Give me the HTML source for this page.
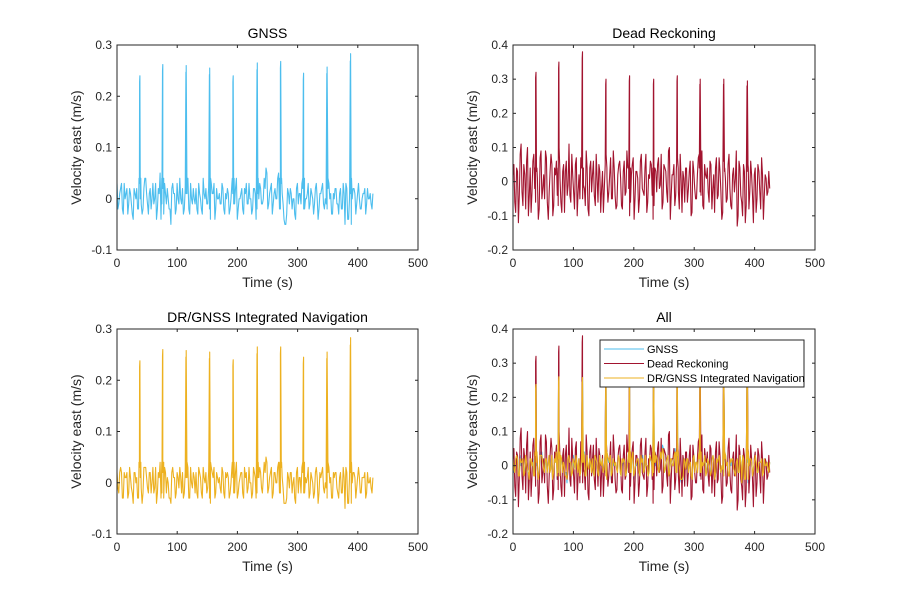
<!DOCTYPE html>
<html><head><meta charset="utf-8"><style>
body{margin:0;background:#fff}
svg{display:block;font-family:"Liberation Sans",Arial,sans-serif}
</style></head><body>
<svg id="fig" width="900" height="600" viewBox="0 0 900 600"></svg>
<script>
// Shared data
const peakTimes = [38,76,115,154,193,233,272,310,349,388];
const gnssPeaks = [0.24,0.262,0.26,0.255,0.24,0.265,0.268,0.245,0.257,0.283];
const drPeaks = [0.32,0.35,0.38,0.30,0.31,0.30,0.31,0.30,0.30,0.295];
const intPeaks = [0.238,0.26,0.258,0.255,0.24,0.265,0.265,0.245,0.255,0.283];
const gnssNoise = [3,-1,2,-2,3,1,-3,2,-1,-4,1,2,-2,0,-3,2,4,-1,1,-2,3,0,-4,2,5,-1,-3,1,2,-2,-5,3,1,-2,0,4,-1,-3,2,1,-2,3,-1,0,2,-3,1,-2,4,0,-1,2,-4,1,3,-2,0,1,-1,2,-3,0,1,-2,3,-1,2,-4,0,1,-2,2,3,-1,0,-3,2,1,-2,0,2,-1,4,6,-2,1,3,-1,2,0,5,-2,1,-4,-5,2,-1,1,0,-3,2,-1,1,3,-2,0,1,-2,2,0,-1,3,-4,1,2,-1,0,-2,3,1,-3,0,2,-1,1,-2,3,-5,2,-4,1,0,2,-3,1,0,-2,1,2,-1,0,1,-2,1];
const gnssNoise2 = [-2,1,3,-3,0,2,-1,1,-3,2,0,-2,3,-1,-2,4,1,-3,2,0,-1,3,-2,1,-4,2,3,-1,0,-2,2,1,-3,3,-1,0,2,-2,1,4,-3,0,2,-1,-2,3,0,-3,1,2,-1,-2,3,1,-4,2,0,-1,3,-2,1,2,-3,0,1,-1,4,-2,0,2,-3,1,-1,3,0,-2,2,-4,1,3,-1,0,2,5,-1,2,-3,1,0,4,-2,3,-1,-5,-3,1,2,-2,0,-4,3,1,-1,2,-2,0,3,-1,1,-3,2,0,-2,1,3,-2,-1,2,0,-3,1,2,-1,-3,2,-2,1,3,-4,0,-5,2,1,-1,3,-2,0,1,-3,2,0,-1];
const drNoise = [2,-6,4,-12,8,-3,5,-8,10,-4,-9,6,-2,3,-11,7,-5,2,9,-6,-3,8,-10,4,6,-7,1,-9,5,3,-4,11,-6,2,-8,7,-3,-5,9,-1,-7,4,-10,6,2,-4,8,-6,3,-2,-9,5,1,-3,7,-5,4,-8,2,6,-7,3,-4,9,-2,-6,5,-11,3,1,-5,8,-3,4,-9,2,6,-4,-7,3,5,-2,8,-6,4,-3,9,-11,2,5,-4,7,-8,1,3,-6,4,-2,6,-9,3,-5,2,8,-4,-7,5,1,-3,6,-8,2,4,-5,7,-3,-9,3,-6,5,-2,-8,4,1,-13,6,-4,-10,3,-7,5,-3,2,-12,4,-5,3,-8,2,-4,1,-3];
const drNoise2 = [5,-9,3,-4,11,-7,2,6,-10,4,-3,8,-6,1,-8,9,-2,-5,7,-11,3,5,-7,2,-4,10,-6,3,-9,6,-1,-4,8,-3,5,-10,2,7,-5,-2,9,-8,4,-3,6,-7,1,5,-9,3,-2,8,-6,2,-5,9,-4,-7,5,1,-8,6,-3,4,-10,2,7,-5,3,-9,6,-2,-4,8,-6,1,5,-11,4,-3,7,-1,-8,5,3,-6,10,-4,2,-7,5,-3,8,-9,1,4,-6,3,-10,6,-2,-5,7,-3,9,-8,2,4,-6,5,-2,-9,7,-4,3,-11,6,1,-5,8,-7,2,-3,9,-10,4,-6,5,-12,3,-8,6,-4,2,-9,5,-3,7,-11,2,-4,3,-2];
const intNoise = [2,-2,3,-3,2,1,-3,3,-1,-4,2,1,-3,1,-4,3,3,-1,2,-2,3,-1,-4,2,4,-2,-3,2,1,-3,-4,3,1,-2,1,3,-2,-3,2,1,-3,3,-1,1,2,-3,2,-2,3,0,-2,2,-4,2,3,-2,1,1,-2,2,-3,1,1,-2,3,-2,2,-3,0,2,-2,3,2,-1,0,-3,3,1,-2,1,2,-2,4,5,-2,1,3,-2,2,0,4,-2,1,-4,-4,2,-1,2,0,-3,2,-2,1,3,-2,1,1,-3,2,0,-2,3,-4,2,2,-1,0,-3,3,1,-3,1,2,-2,1,-2,3,-5,2,-4,2,0,2,-3,1,1,-2,1,2,-2,0,1,-2,1];
const intNoise2 = [-1,2,2,-3,1,2,-2,1,-2,2,0,-3,3,-1,-2,3,1,-2,2,0,-2,3,-2,1,-3,2,3,-2,0,-3,2,1,-3,2,-1,1,2,-2,1,3,-3,0,2,-2,-2,3,1,-3,1,2,-1,-3,3,1,-3,2,0,-1,3,-2,2,2,-3,0,1,-2,4,-2,1,2,-3,1,-2,3,0,-2,2,-3,1,3,-1,1,2,4,-1,2,-3,2,0,3,-2,3,-1,-4,-3,1,2,-2,1,-4,3,1,-2,2,-2,0,3,-2,1,-3,2,1,-2,1,3,-2,-1,2,0,-3,2,2,-1,-3,2,-2,1,3,-4,1,-4,2,1,-1,3,-2,1,1,-3,2,0,-1];
const xTicks = [0,100,200,300,400,500];
const yTicksA = [-0.1,0,0.1,0.2,0.3];
const yTicksB = [-0.2,-0.1,0,0.1,0.2,0.3,0.4];
const C = {g:'#4DBEEE', d:'#A2142F', i:'#EDB120'};
const tEnd = 425;

const svg = document.getElementById('fig');
const NS = 'http://www.w3.org/2000/svg';
function el(tag, attrs, parent){const e=document.createElementNS(NS,tag);for(const k in attrs)e.setAttribute(k,attrs[k]);(parent||svg).appendChild(e);return e;}

function series(a, b, peaks){
  const noise=[];
  const n=Math.max(a.length,b.length);
  for(let i=0;i<n;i++){if(i<a.length)noise.push(a[i]);if(i<b.length)noise.push(b[i]);}
  const step = tEnd/(noise.length-1);
  const pts = noise.map((v,i)=>[i*step, v/100]);
  peakTimes.forEach((t,k)=>{pts.push([t-1.5, 0.04]);pts.push([t-0.5, peaks[k]*0.95]);pts.push([t, peaks[k]]);pts.push([t+1.5, 0.04]);});
  pts.sort((x,y)=>x[0]-y[0]);
  return pts;
}

function axes(name, box, ymin, ymax, yTicks, title, list, legend){
  const [L,T,R,B] = box;
  const g = el('g',{});
  
  
  const sx = v=>L+(v-0)/(500-0)*(R-L);
  const sy = v=>B-(v-ymin)/(ymax-ymin)*(B-T);
  el('rect',{x:L,y:T,width:R-L,height:B-T,fill:'#fff'},g);
  const clip = 'c'+name;
  const cp = el('clipPath',{id:clip},g); el('rect',{x:L,y:T,width:R-L,height:B-T},cp);
  list.forEach(([pts,col,sn])=>{
    const p = el('polyline',{points:pts.map(q=>sx(q[0]).toFixed(1)+','+sy(q[1]).toFixed(1)).join(' '),fill:'none',stroke:col,'stroke-width':1.1,'stroke-linejoin':'round','clip-path':'url(#'+clip+')'},g);
    
    
  });
  el('rect',{x:L,y:T,width:R-L,height:B-T,fill:'none',stroke:'#262626','stroke-width':1},g);
  xTicks.forEach(v=>{
    const x=sx(v);
    el('line',{x1:x,x2:x,y1:B,y2:B-3,stroke:'#262626'},g);
    el('line',{x1:x,x2:x,y1:T,y2:T+3,stroke:'#262626'},g);
    const t=el('text',{x:x,y:B+17,'text-anchor':'middle','font-size':12,fill:'#262626'},g); t.textContent=v;
    
    
  });
  yTicks.forEach(v=>{
    const y=sy(v);
    el('line',{x1:L,x2:L+3,y1:y,y2:y,stroke:'#262626'},g);
    el('line',{x1:R,x2:R-3,y1:y,y2:y,stroke:'#262626'},g);
    const t=el('text',{x:L-5,y:y+4,'text-anchor':'end','font-size':12,fill:'#262626'},g); t.textContent=(Math.round(v*10)/10).toString();
    
    
  });
  const tt=el('text',{x:(L+R)/2,y:T-7,'text-anchor':'middle','font-size':14,fill:'#000'},g); tt.textContent=title;
  
  
  const xl=el('text',{x:(L+R)/2,y:B+37,'text-anchor':'middle','font-size':14,fill:'#262626'},g); xl.textContent='Time (s)';
  
  
  const yl=el('text',{x:0,y:0,'text-anchor':'middle','font-size':14,fill:'#262626',transform:`translate(${L-36},${(T+B)/2}) rotate(-90)`},g); yl.textContent='Velocity east (m/s)';
  
  
  if(legend){
    const lg=el('g',{},g);
    
    
    el('rect',{x:600,y:340,width:204,height:47,fill:'#fff',stroke:'#262626'},lg);
    list.forEach(([p,col,sn,lab],k)=>{
      const y=349+k*14.5;
      el('line',{x1:604,x2:644,y1:y,y2:y,stroke:col,'stroke-width':1},lg);
      const t=el('text',{x:647,y:y+4,'font-size':11,fill:'#000'},lg); t.textContent=lab;
      
      
    });
  }
}
const G=series(gnssNoise,gnssNoise2,gnssPeaks), D=series(drNoise,drNoise2,drPeaks), I=series(intNoise,intNoise2,intPeaks);
axes('gnss-axes',[117,45,418,250],-0.1,0.3,yTicksA,'GNSS',[[G,C.g,'gnss-line']]);
axes('dr-axes',[513,45,815,250],-0.2,0.4,yTicksB,'Dead Reckoning',[[D,C.d,'dr-line']]);
axes('integrated-axes',[117,329,418,534],-0.1,0.3,yTicksA,'DR/GNSS Integrated Navigation',[[I,C.i,'integrated-line']]);
axes('all-axes',[513,329,815,534],-0.2,0.4,yTicksB,'All',[[G,C.g,'gnss-line','GNSS'],[D,C.d,'dr-line','Dead Reckoning'],[I,C.i,'integrated-line','DR/GNSS  Integrated Navigation']],true);
</script>
</body></html>
